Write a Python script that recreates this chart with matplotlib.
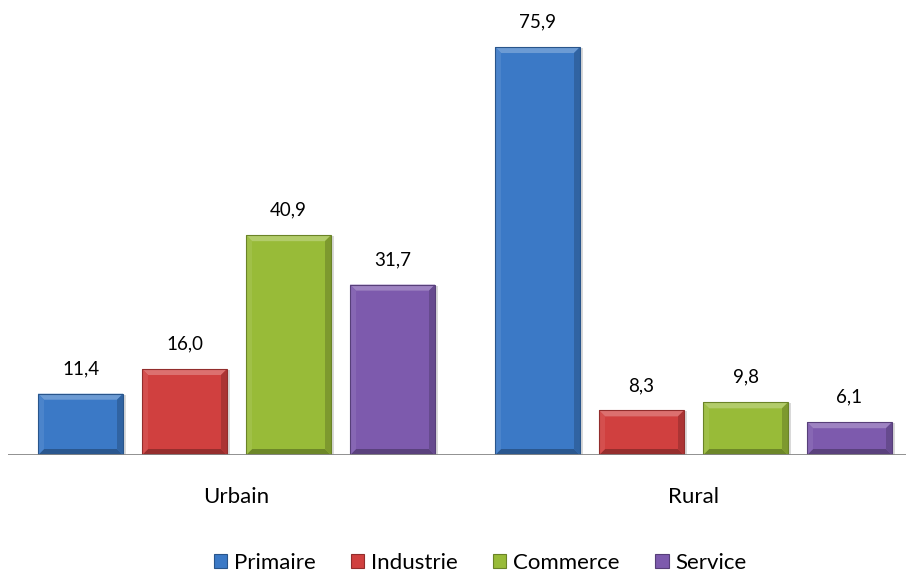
import matplotlib.pyplot as plt
import numpy as np
from matplotlib.patches import Polygon
from matplotlib.colors import to_rgb

plt.rcParams["font.family"] = ["Lato", "DejaVu Sans"]

groups = ["Urbain", "Rural"]
sectors = ["Primaire", "Industrie", "Commerce", "Service"]
values = {
    "Primaire": [11.4, 75.9],
    "Industrie": [16.0, 8.3],
    "Commerce": [40.9, 9.8],
    "Service": [31.7, 6.1],
}
value_labels = {
    "Primaire": ["11,4", "75,9"],
    "Industrie": ["16,0", "8,3"],
    "Commerce": ["40,9", "9,8"],
    "Service": ["31,7", "6,1"],
}
colors = ["#3b79c6", "#d0403f", "#98bb38", "#7d5aad"]

W, H = 907, 575
fig = plt.figure(figsize=(W / 100, H / 100), dpi=100)
ax = fig.add_axes([8 / W, (H - 455) / H, 898 / W, 455 / H])

px_per_x = 457.0
px_per_y = 5.375
ax.set_xlim(-0.5, (906 - 236.5) / px_per_x)
ax.set_ylim(0, 455 / px_per_y)

bar_w = 85 / px_per_x
step = 104 / px_per_x
offsets = (np.arange(4) - 1.5) * step
group_x = np.array([0.0, (693.5 - 236.5) / px_per_x])


def shade(c, f):
    r, g, b = to_rgb(c)
    if f > 1:
        return tuple(x + (1 - x) * (f - 1) for x in (r, g, b))
    return (r * f, g * f, b * f)


bx = 6 / px_per_x
by = 6 / px_per_y

for i, s in enumerate(sectors):
    xs = group_x + offsets[i]
    bars = ax.bar(xs, values[s], width=bar_w, color=colors[i], zorder=2)
    for b, lab in zip(bars, value_labels[s]):
        x0, w, h = b.get_x(), b.get_width(), b.get_height()
        x1 = x0 + w
        # soft shadow on the right
        ax.add_patch(plt.Rectangle((x1, 0), 3 / px_per_x, h - 1 / px_per_y,
                                   color="#d9d9d9", zorder=1, lw=0))
        # bevel faces
        ax.add_patch(Polygon([(x0, h), (x1, h), (x1 - bx, h - by), (x0 + bx, h - by)],
                             closed=True, color=shade(colors[i], 1.25), lw=0, zorder=3))
        ax.add_patch(Polygon([(x0, 0), (x1, 0), (x1 - bx, by), (x0 + bx, by)],
                             closed=True, color=shade(colors[i], 0.72), lw=0, zorder=3))
        ax.add_patch(Polygon([(x0, 0), (x0, h), (x0 + bx, h - by), (x0 + bx, by)],
                             closed=True, color=shade(colors[i], 1.08), lw=0, zorder=3))
        ax.add_patch(Polygon([(x1, 0), (x1, h), (x1 - bx, h - by), (x1 - bx, by)],
                             closed=True, color=shade(colors[i], 0.82), lw=0, zorder=3))
        ax.add_patch(plt.Rectangle((x0, 0), w, h, fill=False,
                                   ec=shade(colors[i], 0.7), lw=0.8, zorder=4))
        ax.text(x0 + w / 2, h + 25 / px_per_y, lab, ha="center", va="center",
                fontsize=13.5, color="#000000")

ax.axhline(0, color="#868686", lw=2, zorder=5)
for sp in ax.spines.values():
    sp.set_visible(False)
ax.set_yticks([])
ax.set_xticks([])

for gx, g in zip(group_x, groups):
    ax.text(gx, -42 / px_per_y, g, ha="center", va="center", fontsize=16,
            clip_on=False)

handles = [plt.Rectangle((0, 0), 1, 1, fc=c, ec=shade(c, 0.7), lw=0.8) for c in colors]
fig.legend(handles, sectors, loc="center", bbox_to_anchor=(480 / W, 1 - 563 / H),
           ncol=4, frameon=False, fontsize=16, handlelength=0.6, handleheight=0.6,
           handletextpad=0.3, columnspacing=1.6)

fig.savefig("out.png", dpi=100)
